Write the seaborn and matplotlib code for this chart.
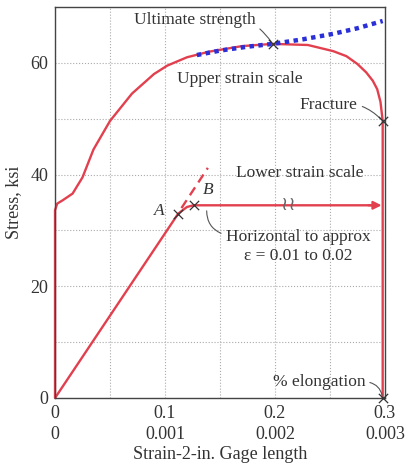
import numpy as np
import pandas as pd
import matplotlib
matplotlib.use("Agg")
import matplotlib.pyplot as plt
import seaborn as sns

# upper strain scale curve (strain read on the 0 - 0.3 scale)
upper_strain = [0, 0, 0.002, 0.007, 0.016, 0.025, 0.035, 0.05, 0.07, 0.09, 0.102,
                0.12, 0.14, 0.17, 0.198, 0.23, 0.253, 0.265, 0.275, 0.283, 0.289,
                0.293, 0.296, 0.298, 0.298]
upper_stress = [0, 33.6, 34.8, 35.4, 36.6, 39.5, 44.5, 49.6, 54.5, 58.0, 59.5,
                61.0, 62.0, 63.0, 63.4, 63.2, 62.1, 61.2, 59.8, 58.3, 56.8,
                55.3, 53.0, 49.6, 0]

# true stress extension past the ultimate point (blue dotted)
true_strain = [0.129, 0.15, 0.175, 0.198, 0.225, 0.253, 0.275, 0.298]
true_stress = [61.4, 62.2, 62.9, 63.4, 64.2, 65.2, 66.2, 67.5]

# lower strain scale curve (strain read on the 0 - 0.003 scale)
lower_strain = [0, 0.00112, 0.0012, 0.00126, 0.0029]
lower_stress = [0, 33.0, 34.2, 34.5, 34.5]
lower_ext_strain = [0.00115, 0.00139]
lower_ext_stress = [34.0, 41.2]

# marked points
pt_labels = ["A", "B", "Ultimate", "Fracture", "Elongation"]
pt_strain = [0.112, 0.126, 0.198, 0.298, 0.298]
pt_stress = [33.0, 34.5, 63.4, 49.6, 0]

x_ticks = [0, 0.1, 0.2, 0.3]
x_upper_labels = ["0", "0.1", "0.2", "0.3"]
x_lower_labels = ["0", "0.001", "0.002", "0.003"]
y_ticks = [0, 20, 40, 60]

sns.set_style("white")
plt.rcParams["font.family"] = ["Liberation Serif", "DejaVu Serif"]

red = "#e2404e"
blue = "#2a2fd8"
ink = "#333333"

fig = plt.figure(figsize=(4.06, 4.68), dpi=100)
ax = fig.add_axes([0.1355, 0.1496, 0.8125, 0.8354])

upper = pd.DataFrame({"strain": upper_strain, "stress": upper_stress})
true = pd.DataFrame({"strain": true_strain, "stress": true_stress})
lower = pd.DataFrame({"strain": np.array(lower_strain) * 100, "stress": lower_stress})
lower_ext = pd.DataFrame({"strain": np.array(lower_ext_strain) * 100,
                          "stress": lower_ext_stress})
pts = pd.DataFrame({"label": pt_labels, "strain": pt_strain, "stress": pt_stress})

line_kw = dict(x="strain", y="stress", sort=False, estimator=None, ax=ax)
sns.lineplot(data=upper, color=red, lw=1.7, clip_on=False, **line_kw)
sns.lineplot(data=lower, color=red, lw=1.7, **line_kw)
sns.lineplot(data=lower_ext, color=red, lw=1.7, linestyle=(0, (4, 2.5)), **line_kw)
sns.lineplot(data=true, color=blue, lw=3.2, zorder=4, **line_kw)
ax.lines[-1].set_linestyle((0, (1, 1)))
ax.lines[-1].set_dash_capstyle("butt")

# arrow head at the end of the lower curve
ax.annotate("", xy=(0.297, lower_stress[-1]), xytext=(0.285, lower_stress[-1]),
            arrowprops=dict(arrowstyle="-|>", color=red, lw=1.6,
                            mutation_scale=12, shrinkA=0, shrinkB=0))
# break mark on the horizontal segment
ax.text(0.212, lower_stress[-1] + 0.2, "≀≀", ha="center", va="center",
        fontsize=14, color="#666666", family="DejaVu Sans")

sns.scatterplot(data=pts, x="strain", y="stress", marker="x", s=45, color=ink,
                linewidth=0.9, ax=ax, zorder=5, clip_on=False)

txt = dict(fontsize=12.5, color=ink)
leader = dict(arrowstyle="-", color="#555555", lw=0.8, shrinkA=1, shrinkB=2)
ax.annotate("Ultimate strength", xy=(0.198, 63.4), xytext=(0.127, 67.6),
            ha="center", va="center", **txt,
            arrowprops=dict(connectionstyle="arc3,rad=-0.4", **leader))
ax.text(0.168, 57.2, "Upper strain scale", ha="center", va="center", **txt)
ax.annotate("Fracture", xy=(0.298, 49.6), xytext=(0.249, 52.4),
            ha="center", va="center", **txt,
            arrowprops=dict(connectionstyle="arc3,rad=-0.3", **leader))
ax.text(0.223, 40.3, "Lower strain scale", ha="center", va="center", **txt)
ax.text(0.095, 33.4, "A", ha="center", va="center", style="italic", **txt)
ax.text(0.139, 37.2, "B", ha="center", va="center", style="italic", **txt)
ax.annotate("Horizontal to approx", xy=(0.138, 34.0), xytext=(0.221, 28.9),
            ha="center", va="center", **txt,
            arrowprops=dict(connectionstyle="arc3,rad=-0.4", relpos=(0, 0.6), **leader))
ax.text(0.221, 25.4, "ε = 0.01 to 0.02", ha="center", va="center", **txt)
ax.annotate("% elongation", xy=(0.298, 0), xytext=(0.24, 2.9),
            ha="center", va="center", **txt,
            arrowprops=dict(connectionstyle="arc3,rad=-0.4", relpos=(1, 0.5), **leader))

ax.set_xlim(0, 0.3)
ax.set_ylim(0, 70)
ax.set_xticks(x_ticks)
ax.set_xticklabels([f"{a}\n{b}" for a, b in zip(x_upper_labels, x_lower_labels)],
                   linespacing=1.35)
ax.set_xticks(np.arange(0.05, 0.3, 0.1), minor=True)
ax.set_yticks(y_ticks)
ax.set_yticks([10, 30, 50], minor=True)
ax.tick_params(which="both", length=0, labelsize=13, colors=ink, pad=5)
ax.grid(True, which="both", color="#aaaaaa", linestyle=":", lw=0.8)
for s in ax.spines.values():
    s.set_color("#444444")
    s.set_linewidth(1.0)
ax.set_xlabel("Strain-2-in. Gage length", fontsize=13, color=ink, labelpad=2)
ax.set_ylabel("Stress, ksi", fontsize=13, color=ink, labelpad=6)

fig.savefig("out.png", dpi=100)
